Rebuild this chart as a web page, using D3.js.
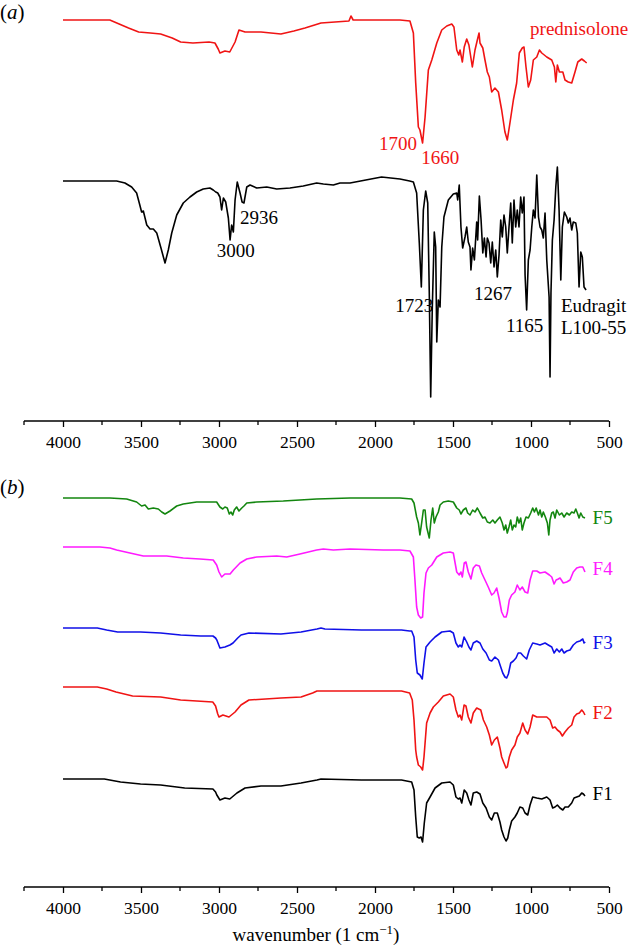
<!DOCTYPE html>
<html><head><meta charset="utf-8">
<script src="https://cdn.jsdelivr.net/npm/d3@7"></script>
<style>body{margin:0;background:#fff}svg{display:block}text{font-family:"Liberation Serif","Times New Roman",serif}</style>
</head><body><div id="chart"></div>
<script>
// ---- data: [wavenumber (cm-1), transmittance (a.u., offset-stacked)] ----
const prednisolone = [[4000,401],[3700,401],[3640,397],[3580,393],[3515,389],[3440,388],[3374,387],[3300,383],[3246,379],[3167,378],[3064,379],[3026,378],[3005,372],[2994,368],[2962,370],[2931,369],[2897,379],[2872,391],[2833,389],[2731,389],[2603,387],[2520,390],[2449,393],[2346,398],[2167,400],[2154,405],[2140,401],[2090,401],[1840,401],[1776,400],[1754,388],[1739,338],[1722,294],[1712,291],[1695,278],[1679,304],[1658,351],[1636,361],[1604,378],[1572,391],[1540,395],[1508,397],[1494,394],[1476,371],[1463,366],[1455,371],[1440,359],[1428,374],[1412,382],[1398,376],[1376,354],[1359,371],[1344,381],[1333,388],[1327,378],[1309,373],[1295,361],[1280,349],[1267,344],[1252,329],[1231,333],[1209,329],[1188,311],[1167,289],[1152,281],[1135,298],[1113,321],[1092,338],[1075,368],[1056,373],[1045,374],[1032,354],[1017,334],[1002,341],[985,361],[963,364],[946,371],[931,368],[899,364],[867,361],[850,354],[841,339],[831,356],[818,349],[796,349],[782,341],[761,339],[739,338],[718,349],[700,359],[675,362],[658,360],[643,358]];
const eudragit = [[4000,240],[3656,240],[3603,238],[3560,234],[3528,228],[3511,218],[3496,209],[3485,210],[3463,196],[3442,192],[3421,192],[3399,188],[3372,173],[3346,158],[3325,171],[3303,188],[3271,206],[3229,218],[3186,224],[3143,229],[3101,232],[3058,233],[3037,231],[3021,229],[3008,228],[2994,224],[2983,211],[2972,223],[2957,219],[2940,203],[2929,181],[2919,196],[2908,189],[2897,221],[2883,239],[2865,228],[2852,219],[2840,218],[2822,234],[2801,236],[2758,233],[2694,234],[2630,232],[2545,233],[2460,235],[2374,238],[2331,237],[2267,236],[2224,238],[2160,238],[1958,244],[1840,242],[1778,240],[1754,239],[1733,228],[1716,178],[1703,134],[1690,211],[1675,230],[1662,218],[1652,128],[1643,24],[1633,111],[1620,189],[1611,174],[1604,79],[1594,121],[1583,114],[1572,174],[1558,204],[1530,221],[1498,227],[1476,228],[1470,221],[1460,236],[1449,194],[1438,173],[1423,184],[1412,194],[1402,179],[1391,174],[1385,151],[1374,173],[1363,161],[1348,199],[1342,181],[1331,225],[1320,201],[1309,168],[1299,183],[1288,164],[1280,183],[1269,178],[1258,158],[1248,179],[1237,154],[1226,171],[1216,144],[1205,166],[1194,201],[1184,184],[1173,206],[1162,194],[1152,168],[1141,194],[1130,218],[1120,178],[1109,221],[1098,194],[1088,211],[1077,194],[1066,224],[1056,208],[1045,224],[1038,146],[1028,111],[1017,161],[1006,171],[995,194],[985,211],[974,203],[963,246],[952,204],[942,194],[931,191],[921,183],[910,208],[899,161],[884,124],[878,44],[872,128],[863,181],[852,201],[841,234],[831,254],[820,211],[809,141],[799,194],[786,209],[771,204],[761,198],[750,203],[739,191],[729,199],[713,198],[703,188],[692,134],[681,169],[671,164],[660,134],[647,131]];
const F5 = [[4000,389],[3699,389],[3592,388],[3528,385],[3496,381],[3474,382],[3453,378],[3421,379],[3389,378],[3367,375],[3346,373],[3314,376],[3271,381],[3229,383],[3143,385],[3058,385],[3015,385],[2994,380],[2976,378],[2962,380],[2947,379],[2934,373],[2923,375],[2912,372],[2902,377],[2887,380],[2872,376],[2854,379],[2840,381],[2822,384],[2758,385],[2588,386],[2374,388],[2160,389],[1947,389],[1840,389],[1765,388],[1750,384],[1733,370],[1722,364],[1712,352],[1701,364],[1690,377],[1679,377],[1669,360],[1652,349],[1641,367],[1630,379],[1620,364],[1609,370],[1594,375],[1583,382],[1562,385],[1530,386],[1498,385],[1476,379],[1460,377],[1449,373],[1434,377],[1417,379],[1406,374],[1391,372],[1374,377],[1359,375],[1344,379],[1327,374],[1309,369],[1295,370],[1280,365],[1263,364],[1245,367],[1231,364],[1216,367],[1199,370],[1184,364],[1173,357],[1162,362],[1152,354],[1141,360],[1130,367],[1120,357],[1109,362],[1098,360],[1088,370],[1077,364],[1066,369],[1056,357],[1045,364],[1032,370],[1017,369],[1002,374],[989,379],[978,375],[967,379],[952,372],[942,377],[931,370],[921,375],[908,370],[895,364],[886,352],[878,367],[867,374],[857,375],[846,369],[835,377],[818,372],[803,374],[788,370],[771,374],[754,372],[739,375],[724,374],[713,378],[703,374],[692,369],[681,374],[668,370],[654,369]];
const F4 = [[4000,340],[3763,340],[3699,339],[3656,337],[3571,334],[3485,331],[3335,331],[3229,329],[3122,328],[3037,327],[3015,322],[3000,315],[2983,310],[2962,313],[2929,313],[2908,317],[2865,324],[2822,328],[2758,330],[2630,331],[2566,330],[2481,333],[2374,337],[2331,338],[2267,337],[2160,338],[1947,337],[1840,337],[1776,336],[1754,330],[1744,307],[1733,280],[1722,272],[1707,269],[1695,270],[1686,294],[1673,314],[1658,319],[1636,322],[1604,330],[1562,334],[1519,335],[1498,334],[1476,315],[1460,312],[1449,315],[1440,310],[1428,324],[1417,325],[1402,315],[1385,308],[1370,319],[1353,322],[1331,321],[1316,314],[1295,307],[1274,300],[1252,292],[1237,294],[1220,299],[1205,289],[1188,275],[1173,270],[1160,270],[1152,274],[1139,287],[1124,292],[1103,295],[1088,302],[1071,297],[1056,300],[1038,295],[1021,294],[1006,307],[989,316],[963,316],[942,314],[910,315],[882,312],[867,310],[852,303],[839,307],[825,308],[814,309],[793,304],[771,305],[750,307],[729,315],[707,319],[686,320],[668,320],[654,315]];
const F3 = [[4000,259],[3780,259],[3720,257],[3650,255],[3503,255],[3374,254],[3246,252],[3117,251],[3039,251],[3022,249],[3014,247],[2994,239],[2962,240],[2930,242],[2910,244],[2880,249],[2859,252],[2808,254],[2603,253],[2474,255],[2372,258],[2346,259],[2321,258],[2087,257],[1830,257],[1778,256],[1765,256],[1750,250],[1739,227],[1729,214],[1712,212],[1697,208],[1686,224],[1673,240],[1647,245],[1615,250],[1572,255],[1519,256],[1498,254],[1481,244],[1466,240],[1455,242],[1444,240],[1429,250],[1412,245],[1398,240],[1385,237],[1370,244],[1348,246],[1327,244],[1309,238],[1288,234],[1267,227],[1252,226],[1231,230],[1209,227],[1194,220],[1181,214],[1167,210],[1156,209],[1145,213],[1130,224],[1113,226],[1096,229],[1082,234],[1066,234],[1049,231],[1028,228],[1011,237],[989,244],[963,243],[942,242],[910,244],[889,242],[867,240],[852,234],[835,238],[818,235],[803,238],[788,234],[771,236],[750,237],[729,242],[707,245],[686,246],[668,248],[660,244],[652,245]];
const F2 = [[4000,200],[3780,200],[3720,198],[3660,195],[3554,191],[3374,190],[3246,187],[3040,185],[3022,181],[3008,173],[3000,170],[2975,172],[2936,170],[2897,175],[2859,182],[2808,187],[2603,189],[2474,190],[2400,194],[2372,196],[2218,196],[1830,196],[1778,194],[1761,187],[1750,167],[1739,137],[1733,130],[1722,122],[1707,120],[1695,117],[1686,130],[1679,144],[1669,164],[1647,174],[1626,180],[1594,185],[1562,191],[1519,193],[1498,190],[1481,177],[1466,170],[1455,172],[1444,167],[1429,182],[1417,181],[1402,170],[1385,164],[1370,174],[1348,179],[1322,177],[1305,167],[1284,160],[1267,152],[1252,142],[1235,147],[1216,150],[1199,139],[1188,130],[1173,124],[1160,119],[1152,120],[1139,130],[1124,137],[1103,142],[1088,150],[1071,154],[1053,164],[1038,157],[1021,153],[1006,160],[989,172],[963,170],[931,170],[899,170],[878,167],[861,159],[846,160],[831,157],[814,155],[799,151],[782,155],[761,159],[739,162],[724,170],[707,173],[690,174],[675,177],[664,175],[654,172]];
const F1 = [[4000,108],[3735,108],[3631,105],[3503,103],[3374,102],[3220,99],[3039,98],[3022,95],[3014,92],[2994,87],[2962,89],[2931,88],[2885,94],[2833,99],[2731,101],[2603,101],[2474,104],[2372,107],[2346,108],[2087,107],[1830,107],[1765,105],[1750,97],[1739,70],[1729,50],[1716,49],[1705,50],[1695,45],[1684,64],[1669,84],[1647,90],[1615,99],[1572,104],[1519,105],[1498,102],[1481,90],[1466,88],[1455,89],[1444,84],[1428,97],[1412,94],[1398,87],[1385,82],[1370,94],[1348,95],[1327,93],[1309,84],[1288,79],[1267,70],[1252,67],[1235,74],[1216,74],[1199,65],[1188,57],[1173,50],[1160,46],[1149,49],[1139,57],[1124,66],[1103,70],[1088,74],[1071,80],[1053,79],[1038,74],[1021,72],[1006,82],[989,90],[963,89],[931,88],[899,90],[878,87],[861,79],[846,80],[831,82],[814,79],[796,77],[782,80],[761,80],[739,84],[724,89],[707,90],[690,91],[675,94],[664,93],[654,91]];

const topSeries = [
  {name:"prednisolone", data:prednisolone, color:"#f01414"},
  {name:"Eudragit L100-55", data:eudragit, color:"#000000"}
];
const bottomSeries = [
  {name:"F5", data:F5, color:"#13860f"},
  {name:"F4", data:F4, color:"#ff1aff"},
  {name:"F3", data:F3, color:"#1010e8"},
  {name:"F2", data:F2, color:"#f01414"},
  {name:"F1", data:F1, color:"#000000"}
];
const majorTicks = [4000,3500,3000,2500,2000,1500,1000,500];
const minorTicks = [4250,3750,3250,2750,2250,1750,1250,750];
// annotations: [text, wavenumber at text start, transmittance at baseline, colour]
const topNotes = [
  ["prednisolone",1006,386,"#f01414"],
  ["1700",1975,271,"#f01414"],
  ["1660",1703,257,"#f01414"],
  ["2936",2865,197,"#000"],
  ["3000",3015,164,"#000"],
  ["1723",1870,109,"#000"],
  ["1267",1365,121,"#000"],
  ["1165",1160,89,"#000"],
  ["Eudragit",808,109,"#000"],
  ["L100-55",808,87,"#000"]
];
const bottomNotes = [["F5",605,363],["F4",605,312],["F3",605,238],["F2",605,168],["F1",605,87]];

// ---- drawing ----
const W = 630, H = 948;
const SERIF = '"Liberation Serif", "Times New Roman", serif';
const svg = d3.select("#chart").append("svg").attr("width",W).attr("height",H)
  .style("font-family",SERIF);
const x = d3.scaleLinear().domain([4250,500]).range([24,609]);
const yTop = d3.scaleLinear().domain([0,400]).range([421,21]);
const yBot = d3.scaleLinear().domain([0,400]).range([887,487]);

function panel(y, series, axisY){
  const line = d3.line().x(d=>x(d[0])).y(d=>y(d[1]));
  series.forEach(s=>{
    svg.append("path").datum(s.data).attr("d",line)
      .attr("fill","none").attr("stroke",s.color).attr("stroke-width",1.6)
      .attr("stroke-linejoin","round");
  });
  const g = svg.append("g").attr("transform",`translate(0,${axisY})`);
  const ax = d3.axisBottom(x).tickValues(majorTicks).tickSize(6).tickPadding(6).tickFormat(d3.format("d"));
  g.call(ax);
  g.attr("font-family",SERIF).attr("font-size",17.5);
  g.select(".domain").attr("d",`M${x(4250)},0H${x(500)}`).attr("stroke","#000").attr("stroke-width",1.3);
  g.selectAll(".tick line").attr("stroke","#000").attr("stroke-width",1.3);
  g.selectAll(".tick text").attr("font-family",SERIF).attr("font-size",17.5).attr("fill","#000").attr("dy","0.88em");
  g.selectAll(".minor").data(minorTicks).enter().append("line")
    .attr("x1",d=>x(d)).attr("x2",d=>x(d)).attr("y1",0).attr("y2",4)
    .attr("stroke","#000").attr("stroke-width",1.3);
}
panel(yTop, topSeries, 421);
panel(yBot, bottomSeries, 887);

topNotes.forEach(n=>{
  svg.append("text").attr("x",x(n[1])).attr("y",yTop(n[2]))
    .attr("font-family",SERIF).attr("font-size",19).attr("fill",n[3]).text(n[0]);
});
bottomNotes.forEach((n,i)=>{
  svg.append("text").attr("x",x(n[1])).attr("y",yBot(n[2]))
    .attr("font-family",SERIF).attr("font-size",19).attr("fill",bottomSeries[i].color).text(n[0]);
});

function panelLabel(letter, yb){
  const t = svg.append("text").attr("x",0).attr("y",yb).attr("font-family",SERIF).attr("font-size",21);
  t.append("tspan").text("(");
  t.append("tspan").attr("font-style","italic").text(letter);
  t.append("tspan").text(")");
}
panelLabel("a",19);
panelLabel("b",494);

const xl = svg.append("text").attr("x",316).attr("y",941).attr("text-anchor","middle")
  .attr("font-family",SERIF).attr("font-size",19);
xl.append("tspan").text("wavenumber (1 cm");
xl.append("tspan").attr("dy",-7).attr("font-size",13).text("\u22121");
xl.append("tspan").attr("dy",7).text(")");
</script></body></html>
